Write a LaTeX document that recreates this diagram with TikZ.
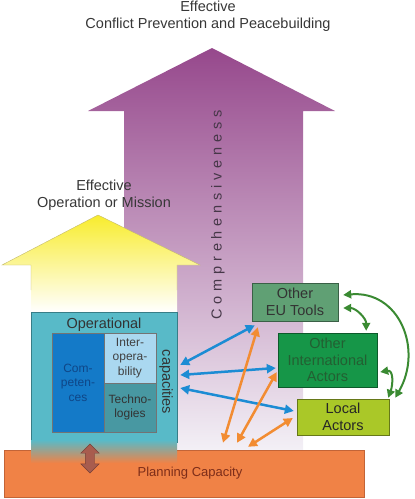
\documentclass[tikz,border=0pt]{standalone}
\usepackage{fontspec}
\setmainfont{Liberation Sans}
\usepackage{xcolor}
\usetikzlibrary{arrows.meta,shapes,calc,positioning}

\definecolor{plum}{RGB}{150,72,140}
\definecolor{plummid}{RGB}{205,162,202}
\definecolor{plumpale}{RGB}{243,240,246}
\definecolor{sun}{RGB}{248,236,45}
\definecolor{sunmid}{RGB}{251,245,150}
\definecolor{sunline}{RGB}{195,185,110}
\definecolor{tealbox}{RGB}{88,186,200}
\definecolor{tealline}{RGB}{55,125,135}
\definecolor{compblue}{RGB}{20,122,200}
\definecolor{interblue}{RGB}{170,216,240}
\definecolor{techteal}{RGB}{72,152,162}
\definecolor{planorange}{RGB}{240,130,70}
\definecolor{planline}{RGB}{195,100,55}
\definecolor{plantext}{RGB}{125,45,25}
\definecolor{fadebrown}{RGB}{200,125,95}
\definecolor{linkbrown}{RGB}{168,92,78}
\definecolor{eugreen}{RGB}{96,160,116}
\definecolor{intlgreen}{RGB}{22,150,72}
\definecolor{localgreen}{RGB}{170,200,40}
\definecolor{arrgreen}{RGB}{58,138,50}
\definecolor{arrblue}{RGB}{28,140,212}
\definecolor{arrorange}{RGB}{242,140,50}
\definecolor{inkgray}{RGB}{55,55,55}

\begin{document}
\begin{tikzpicture}[
	x=1pt, y=1pt,
	goal/.style = {align=center, inner sep=0pt, text=inkgray,
	font=\fontsize{14.5}{17.5}\selectfont},
	actor/.style = {draw, thin, align=center, inner sep=0pt,
	font=\fontsize{14.5}{16.5}\selectfont},
	part/.style = {draw=black!55, thin, align=center, inner sep=0pt,
	font=\fontsize{12}{14.5}\selectfont},
	blue link/.style = {{Triangle[length=9pt,width=9pt]}-{Triangle[length=9pt,width=9pt]},
	line width=2.5pt, draw=arrblue},
	orange link/.style = {{Triangle[length=9pt,width=9pt]}-{Triangle[length=9pt,width=9pt]},
	line width=2.5pt, draw=arrorange},
	green link/.style = {{Triangle[length=8pt,width=8pt]}-{Triangle[length=8pt,width=8pt]},
	line width=2pt, draw=arrgreen}
]
\useasboundingbox (0,0) rectangle (415,-499);

% the two big arrows
\shade[top color=plum, middle color=plummid, bottom color=plumpale]
	(212,-48) -- (335,-111) -- (303,-111) -- (303,-450) -- (124,-450)
	-- (124,-111) -- (88,-111) -- cycle;
\shade[top color=sun, middle color=sunmid, bottom color=white]
	(98,-215) -- (200,-265) -- (177,-265) -- (177,-312) -- (31,-312)
	-- (31,-265) -- (2,-265) -- cycle;
\draw[sunline, thin] (31,-290) -- (31,-265) -- (2,-265) -- (98,-215)
	-- (200,-265) -- (177,-265) -- (177,-290);

\node[goal] (peace) at (208,-16) {Effective\\Conflict Prevention and Peacebuilding};
\node[goal] (mission) at (104,-195) {Effective\\Operation or Mission};
\node[text={rgb,255:red,70;green,55;blue,72}, rotate=90, inner sep=0pt,
	font=\fontsize{14.5}{16}\selectfont\addfontfeature{LetterSpace=33}]
	(comprehensive) at (218,-215) {Comprehensiveness};

% planning capacity
\node[draw=planline, thin, fill=planorange, minimum width=360pt,
	minimum height=47pt, inner sep=0pt] (plan) at (184,-473.5) {};
\node[text=plantext, font=\fontsize{13}{15}\selectfont]
	(plantitle) at ($(plan.center)+(6,0)$) {Planning Capacity};

% operational capacities
\node[draw=tealline, thin, fill=tealbox, minimum width=146pt,
	minimum height=130pt, inner sep=0pt] (op) at (104,-377) {};
\shade[top color=tealbox, middle color=fadebrown, bottom color=planorange]
	(31,-440) rectangle (177,-463);
\node[text=black!80, inner sep=0pt, font=\fontsize{14.5}{16}\selectfont]
	(optitle) at (104,-325) {Operational};
\node[part, fill=compblue, text={rgb,255:red,15;green,70;blue,135},
	minimum width=52pt, minimum height=99pt] (comp) at (78,-382.5)
	{Com-\\peten-\\ces};
\node[part, fill=interblue, text=black!75, minimum width=52pt,
	minimum height=50pt] (inter) at (130,-358) {Inter-\\opera-\\bility};
\node[part, fill=techteal, text=black!80, minimum width=52pt,
	minimum height=49pt] (tech) at (130,-407.5) {Techno-\\logies};
\node[rotate=-90, inner sep=0pt, text=black!80,
	font=\fontsize{14.5}{16}\selectfont] (cap) at (166,-382) {capacities};
\node[double arrow, rotate=90, fill=linkbrown, draw=linkbrown!70!black,
	thin, inner sep=4.5pt, double arrow head extend=4.5pt,
	minimum height=29pt] (link) at (90,-458.5) {};

% other actors
\node[actor, draw=eugreen!60!black, fill=eugreen, text=black!80,
	minimum width=86pt, minimum height=38pt] (eu) at (295,-302)
	{Other\\EU Tools};
\node[actor, draw=intlgreen!60!black, fill=intlgreen,
	text={rgb,255:red,35;green,95;blue,50},
	minimum width=99pt, minimum height=54pt] (intl) at (327.5,-360)
	{Other\\International\\Actors};
\node[actor, draw=localgreen!60!black, fill=localgreen, text=black!85,
	minimum width=92pt, minimum height=36pt] (local) at (343,-417)
	{Local\\Actors};

% links
\draw[blue link] ($(op.east)+(3,12)$) -- ($(eu.south west)+(3,-4)$);
\draw[blue link] ($(op.east)+(3,2)$) -- ($(intl.west)+(-2,-8)$);
\draw[blue link] ($(op.east)+(3,-11)$) -- ($(local.west)+(-3,6)$);

\draw[orange link] ($(plan.north)+(39,7)$) -- ($(eu.south west)+(6,-6)$);
\draw[orange link] ($(plan.north)+(53,7)$) -- ($(intl.west)+(-1,-12)$);
\draw[orange link] ($(plan.north)+(64,3)$) -- ($(local.west)+(-4,-1)$);

\draw[green link] ($(eu.east)+(5,7)$) to[out=5, in=60, looseness=1.25]
	($(local.north east)+(6,1)$);
\draw[green link] ($(eu.east)+(5,-6)$) to[out=0, in=90]
	($(intl.north east)+(-11,2)$);
\draw[green link] ($(intl.east)+(3,-12)$) to[out=10, in=70, looseness=1.3]
	($(local.north east)+(-1,1)$);
\end{tikzpicture}
\end{document}
